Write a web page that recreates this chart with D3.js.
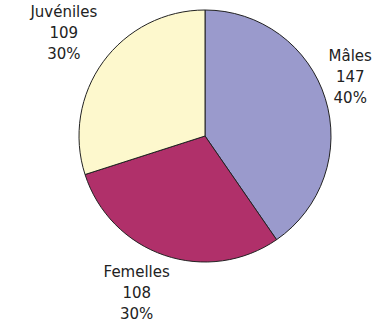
<!DOCTYPE html>
<html><head><meta charset="utf-8">
<script src="https://cdn.jsdelivr.net/npm/d3@7"></script>
<style>body{margin:0;background:#fff}svg{display:block}</style>
</head><body>
<script>
const categories = ["Mâles", "Femelles", "Juvéniles"];
const values = [147, 108, 109];
const colors = ["#9a9acc", "#b0306a", "#fdf8cd"];

const W = 372, H = 322, cx = 205, cy = 136, R = 126;
const svg = d3.select("body").append("svg").attr("width", W).attr("height", H);
const g = svg.append("g").attr("transform", `translate(${cx},${cy})`);
const total = d3.sum(values);
const data = categories.map((c, i) => ({c, v: values[i], col: colors[i]}));
const pie = d3.pie().value(d => d.v).sort(null);
const arc = d3.arc().innerRadius(0).outerRadius(R);
const arcs = pie(data);
g.selectAll("path").data(arcs).join("path")
  .attr("d", arc).attr("fill", d => d.data.col)
  .attr("stroke", "#222").attr("stroke-width", 1).attr("stroke-linejoin", "round");

const fs = 15, lh = 21, lr = R * 1.19;
arcs.forEach(a => {
  const m = (a.startAngle + a.endAngle) / 2;
  const s = Math.sin(m), c = Math.cos(m);
  let x = lr * s + Math.sign(s) * 20;
  let y = -lr * c - Math.sign(c) * 15;
  const lines = [a.data.c, String(a.data.v), Math.round(a.data.v / total * 100) + "%"];
  const t = g.append("text").attr("text-anchor", "middle")
    .attr("font-family", "DejaVu Sans, sans-serif").attr("font-size", fs).attr("fill", "#222");
  lines.forEach((l, i) => t.append("tspan").attr("x", 0).attr("y", (i - 1) * lh + 5.5).text(l));
  const bw = t.node().getBBox().width;
  const maxX = W - cx - bw / 2, minX = -cx + bw / 2;
  x = Math.max(minX, Math.min(maxX, x));
  t.attr("transform", `translate(${x},${y})`);
});
</script>
</body></html>
